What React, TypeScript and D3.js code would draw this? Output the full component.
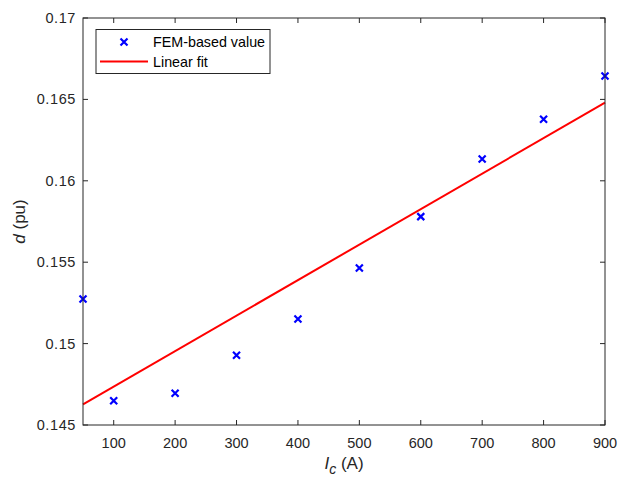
import React from "react";
import * as d3 from "d3";

// FEM-based values of d (pu) versus I_c (A)
const currents = [50, 100, 200, 300, 400, 500, 600, 700, 800, 900];
const femValues = [
  0.15274, 0.14649, 0.14695, 0.14928, 0.15151, 0.15464, 0.1578, 0.16134,
  0.16378, 0.16644,
];

// linear fit end points
const fitCurrents = [50, 900];
const fitValues = [0.14627, 0.1648];

const xTicks = [100, 200, 300, 400, 500, 600, 700, 800, 900];
const yTicks = [0.145, 0.15, 0.155, 0.16, 0.165, 0.17];

const width = 619;
const height = 480;
const margin = { top: 18, right: 14, bottom: 55, left: 83 };
const font = "'Liberation Sans', Arial, Helvetica, sans-serif";
const axisColor = "#262626";

const App = () => {
  const x = d3
    .scaleLinear()
    .domain([50, 900])
    .range([margin.left, width - margin.right]);
  const y = d3
    .scaleLinear()
    .domain([0.145, 0.17])
    .range([height - margin.bottom, margin.top]);

  const left = x(50);
  const right = x(900);
  const top = y(0.17);
  const bottom = y(0.145);

  const line = d3
    .line<number>()
    .x((d, i) => x(fitCurrents[i]))
    .y((d) => y(d));

  const tickLen = 5;
  const mark = 3.5;

  return (
    <div style={{ position: "absolute", left: 0, top: 0 }}>
      <svg width={width} height={height} style={{ display: "block", background: "#fff" }}>
        {/* fit line */}
        <path
          d={line(fitValues) || ""}
          fill="none"
          stroke="#ff0000"
          strokeWidth={2}
        />

        {/* FEM points */}
        {currents.map((c, i) => {
          const cx = x(c);
          const cy = y(femValues[i]);
          return (
            <path
              key={c}
              d={`M${cx - mark},${cy - mark}L${cx + mark},${cy + mark}M${cx - mark},${cy + mark}L${cx + mark},${cy - mark}`}
              stroke="#0000ff"
              strokeWidth={2.2}
              fill="none"
            />
          );
        })}

        {/* axes box */}
        <rect
          x={left}
          y={top}
          width={right - left}
          height={bottom - top}
          fill="none"
          stroke={axisColor}
          strokeWidth={1}
        />

        {/* x ticks */}
        {xTicks.map((t) => (
          <g key={"x" + t}>
            <line x1={x(t)} x2={x(t)} y1={bottom} y2={bottom - tickLen} stroke={axisColor} />
            <line x1={x(t)} x2={x(t)} y1={top} y2={top + tickLen} stroke={axisColor} />
            <text
              x={x(t)}
              y={bottom + 23}
              textAnchor="middle"
              fontFamily={font}
              fontSize={14.5}
              fill={axisColor}
            >
              {t}
            </text>
          </g>
        ))}

        {/* y ticks */}
        {yTicks.map((t) => (
          <g key={"y" + t}>
            <line x1={left} x2={left + tickLen} y1={y(t)} y2={y(t)} stroke={axisColor} />
            <line x1={right} x2={right - tickLen} y1={y(t)} y2={y(t)} stroke={axisColor} />
            <text
              x={left - 7}
              y={y(t)}
              dy="0.35em"
              textAnchor="end"
              fontFamily={font}
              fontSize={14.5}
              letterSpacing={0.6}
              fill={axisColor}
            >
              {String(+t.toFixed(3))}
            </text>
          </g>
        ))}

        {/* axis labels */}
        <text
          x={(left + right) / 2}
          y={469}
          textAnchor="middle"
          fontFamily={font}
          fontSize={17}
          fill={axisColor}
        >
          <tspan fontStyle="italic">I</tspan>
          <tspan fontStyle="italic" fontSize={14} dy={5}>c</tspan>
          <tspan dy={-5}> (A)</tspan>
        </text>
        <text
          transform={`translate(25,${(top + bottom) / 2}) rotate(-90)`}
          textAnchor="middle"
          fontFamily={font}
          fontSize={17}
          fill={axisColor}
        >
          <tspan fontStyle="italic">d</tspan>
          <tspan> (pu)</tspan>
        </text>

        {/* legend */}
        <g>
          <rect x={96} y={29.5} width={174} height={44} fill="#fff" stroke={axisColor} strokeWidth={1} />
          <path
            d={`M${124 - mark},${42 - mark}L${124 + mark},${42 + mark}M${124 - mark},${42 + mark}L${124 + mark},${42 - mark}`}
            stroke="#0000ff"
            strokeWidth={2.2}
          />
          <text x={153} y={42} dy="0.35em" fontFamily={font} fontSize={14.3} fill="#000">
            FEM-based value
          </text>
          <line x1={100} x2={148} y1={61.5} y2={61.5} stroke="#ff0000" strokeWidth={2} />
          <text x={153} y={61.5} dy="0.35em" fontFamily={font} fontSize={14.3} fill="#000">
            Linear fit
          </text>
        </g>
      </svg>
    </div>
  );
};

export default App;
